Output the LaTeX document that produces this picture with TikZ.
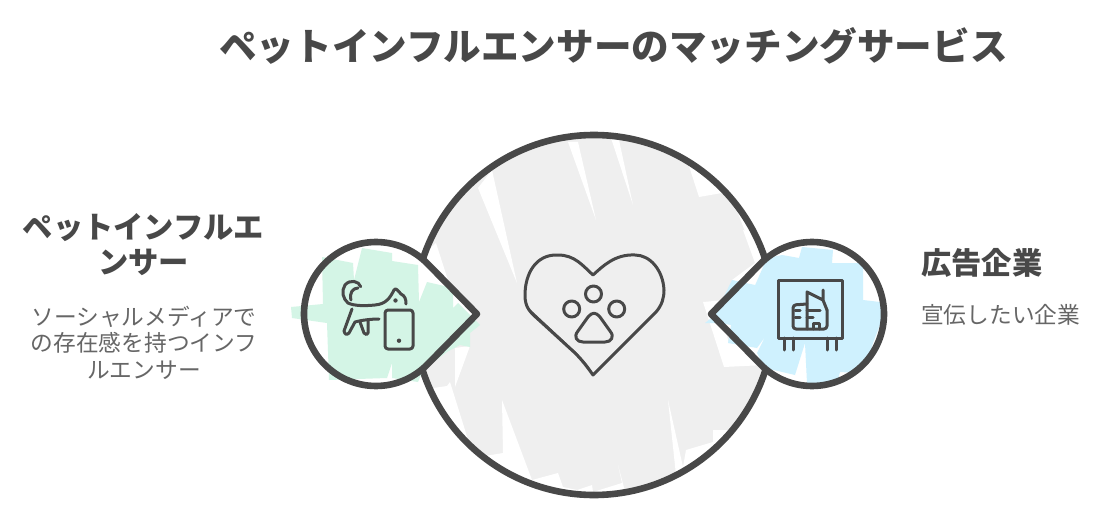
\documentclass[tikz,border=0pt]{standalone}
\usepackage{fontspec}
\setmainfont{Noto Sans CJK JP}
\definecolor{ink}{HTML}{484848}
\definecolor{body}{HTML}{666666}
\definecolor{pale}{HTML}{EFEFEF}
\definecolor{mint}{HTML}{D4F5E6}
\definecolor{sky}{HTML}{CFF1FE}
\tikzset{
  outline/.style={draw=ink,line width=6.6pt,line join=round},
  iconline/.style={draw=ink,line width=3pt,line cap=round,line join=round},
  heading/.style={inner sep=0pt,text=ink,font=\fontsize{30.3}{35}\selectfont\bfseries,align=center},
  bodytext/.style={inner sep=0pt,text=body,font=\fontsize{22.7}{26.5}\selectfont,align=center}
}
\begin{document}
\begin{tikzpicture}[x=1pt,y=-1pt]
\useasboundingbox (0,0) rectangle (1116,516);
\fill[white] (0,0) rectangle (1116,516);
% big circle hachure
\begin{scope}
\clip (594,315) circle[radius=181pt];
\fill[pale] (400,120) rectangle (790,510);
\fill[white] (568,142)--(578,142)--(596,220)--cycle;
\fill[white] (610,135)--(619,140)--(633,205)--cycle;
\fill[white] (478,188)--(492,170)--(517,283)--cycle;
\fill[white] (688,163)--(699,197)--(722,193)--(735,170)--(700,140)--cycle;
\fill[white] (738,213)--(753,253)--(770,250)--(750,200)--cycle;
\fill[white] (502,400)--(532,480)--(558,473)--(563,487)--(577,490)--(592,485)--(593,492)--(622,483)--(618,465)--(630,510)--(480,510)--(473,458)--(503,453)--cycle;
\fill[white] (450,382)--(465,430)--(473,458)--(440,450)--(420,390)--(447,386)--cycle;
\fill[white] (668,400)--(683,467)--(686,450)--(713,442)--(713,430)--(740,430)--(700,490)--(676,475)--cycle;
\fill[white] (423,255)--(436,243)--(456,305)--(470,305)--cycle;
\fill[white] (455,348)--(470,346)--(455,387)--cycle;
\fill[white] (703,302)--(725,300)--(712,315)--(722,320)--(729,343)--(755,345)--(765,365)--(724,367)--cycle;
\fill[white] (743,230)--(755,263)--(732,280)--(753,286)--(770,240)--cycle;
\end{scope}
\draw[outline] (594,315) circle[radius=180pt];
% left drop
\fill[white] plot[domain=44.5:315.5,samples=90] ({376+72*cos(\x)},{314+72*sin(\x)}) -- (477,314) -- cycle;
\fill[mint] (322,257)--(353,263)--(354,280)--(362,248)--(392,253)--(392,261)--(418,265)--(419,302)--(427,282)--(453,288)--(453,308)--(458,303)--(480,325)--(470,333)--(470,347)--(460,345)--(447,352)--(423,370)--(418,382)--(392,378)--(392,363)--(387,378)--(329,380)--(327,323)--(292,318)--(291,307)--(323,304)--cycle;
\draw[outline] plot[domain=44.5:315.5,samples=90] ({376+72*cos(\x)},{314+72*sin(\x)}) -- (477,314) -- cycle;
\draw[draw=ink,line width=2pt,line cap=round] (427,366)--(472,320);
% right drop
\fill[white] plot[domain=135.5:-135.5,samples=90] ({812+72*cos(\x)},{314+72*sin(\x)}) -- (711,314) -- cycle;
\fill[sky] (782,255)--(799,258)--(802,247)--(833,250)--(832,263)--(863,263)--(863,300)--(880,302)--(883,317)--(873,343)--(867,363)--(857,373)--(840,372)--(837,383)--(807,383)--(805,343)--(795,375)--(765,368)--(757,353)--(765,337)--(757,348)--(728,343)--(731,325)--(720,323)--(705,323)--(715,315)--(732,280)--(755,285)--(753,290)--(767,258)--cycle;
\draw[outline] plot[domain=135.5:-135.5,samples=90] ({812+72*cos(\x)},{314+72*sin(\x)}) -- (711,314) -- cycle;
% heart
\draw[iconline] (593,275) .. controls (583,266) and (575,255) .. (558,255) .. controls (535,254) and (525,275) .. (525,295) .. controls (525,308) and (530,312) .. (540,321) -- (575,353) .. controls (583,361) and (588,368) .. (593,375) -- (656,312) .. controls (662,305) and (664,298) .. (664,290) .. controls (663,270) and (650,255) .. (635,255) .. controls (615,254) and (603,266) .. (593,275) -- cycle;
\draw[draw=ink,line width=1.2pt,line cap=round] (530,310) -- (574,351) .. controls (583,360) and (590,368) .. (593,375);
\draw[iconline] (593.5,294) circle[radius=8pt];
\draw[iconline] (571.7,309) circle[radius=8pt];
\draw[iconline] (616.7,309) circle[radius=8pt];
\draw[iconline] (588,317) .. controls (592,312) and (596,312) .. (600,317) -- (610,331) .. controls (615,337) and (611,342) .. (605,342) -- (583,342) .. controls (577,342) and (573,337) .. (578,331) -- cycle;
% cat
\draw[iconline] (360.7,286.7) .. controls (359,281) and (350,279) .. (345,285) .. controls (341,291) and (343,299) .. (348,303) .. controls (354,306) and (365,306) .. (375,305) .. controls (386,304) and (390,298) .. (394,290) .. controls (396,287) and (398,291) .. (401,294) .. controls (405,296) and (406,299) .. (406,304);
\draw[iconline] (351,300) .. controls (349,293) and (353,288) .. (358,288);
\draw[iconline] (352,309) -- (344,331) .. controls (345,335) and (347,335) .. (349,333) -- (355,322) .. controls (362,320) and (372,319) .. (379,319);
\draw[iconline] (360,322) -- (364,333) .. controls (366,335) and (367,335) .. (368,333) -- (368,320);
\fill[ink] (395.5,300.5) circle[radius=2.2pt];
\draw[iconline,rounded corners=3pt] (385,310) rectangle (413,349);
\fill[ink] (399,340.7) circle[radius=2.2pt];
% billboard
\draw[iconline] (778,280) rectangle (842,338);
\draw[iconline] (784,338)--(784,350) (793,338)--(793,350) (827,338)--(827,350) (836,338)--(836,350);
\draw[iconline,rounded corners=3pt] (807,304)--(793,305)--(793,329)--(827,329)--(827,310);
\draw[iconline] (807,329)--(807,292)--(823,300)--(823,290) (823,300)--(827,310);
\draw[iconline] (795,310)--(800,310) (795,317)--(800,317) (807,310)--(820,310) (807,317)--(813,317);
\draw[iconline] (813,329)--(813,323)--(819,323)--(819,329);
% texts
\node[inner sep=0pt,text=ink,font=\fontsize{37.6}{40}\selectfont\bfseries] (title) at (613.5,46) {ペットインフルエンサーのマッチングサービス};
\node[heading] (lefthead) at (143.5,245) {ペットインフルエ\\ンサー};
\node[bodytext] (leftbody) at (144,342.5) {ソーシャルメディアで\\の存在感を持つインフ\\ルエンサー};
\node[heading,anchor=west] (righthead) at (921,263) {広告企業};
\node[bodytext,anchor=west] (rightbody) at (921,315) {宣伝したい企業};
\end{tikzpicture}
\end{document}
